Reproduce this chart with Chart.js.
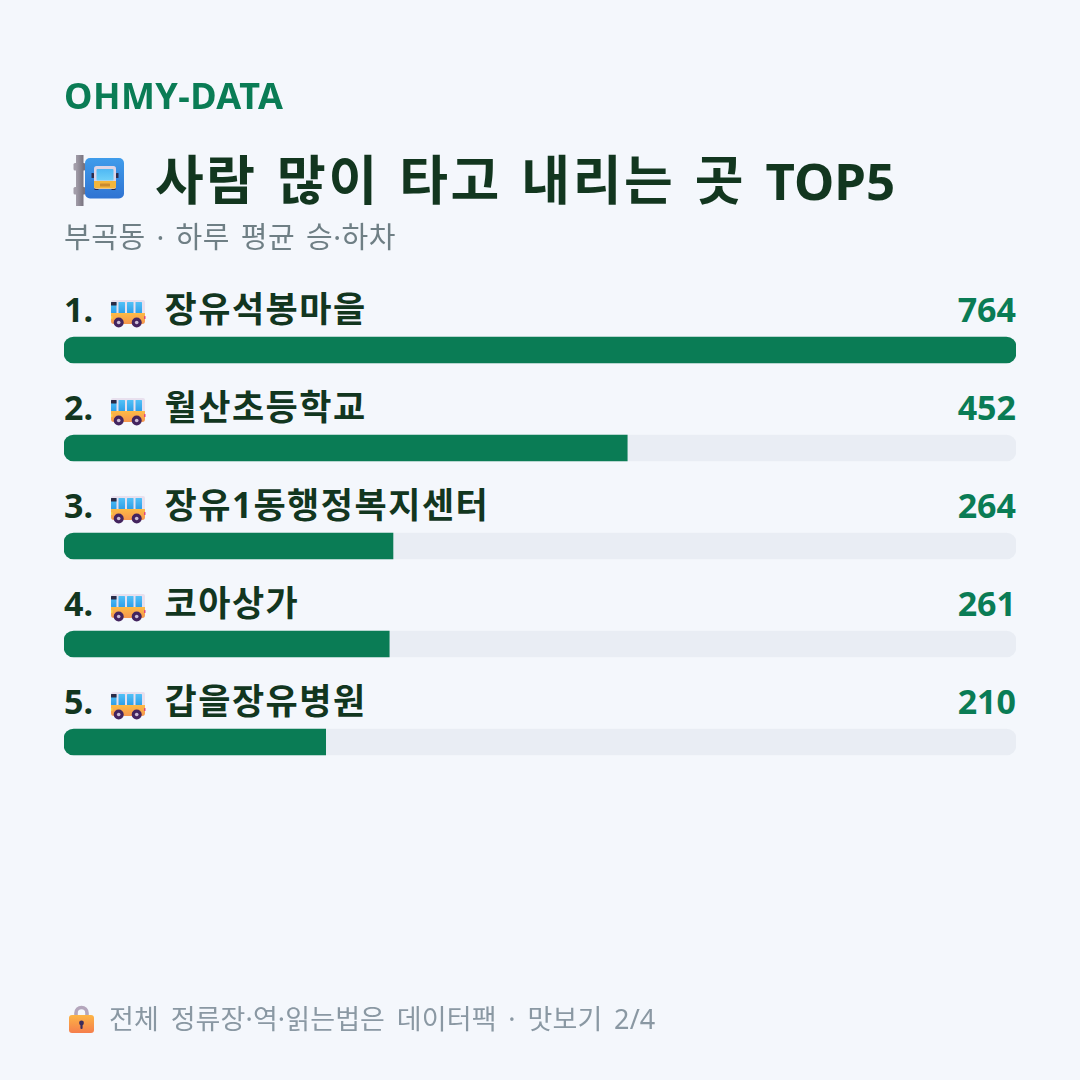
<!DOCTYPE html>
<html lang="ko">
<head>
<meta charset="utf-8">
<title>사람 많이 타고 내리는 곳 TOP5</title>
<style>
  html, body { margin: 0; padding: 0; background: #f4f7fc; }
  body { width: 1080px; height: 1080px; position: relative; overflow: hidden; font-family: "Noto Sans", "Noto Sans CJK KR", sans-serif; }
  .brand, .title, .sub, .foot { position: absolute; white-space: pre; z-index: 2; }
  .brand { left: 64px; top: 72px; font-size: 36px; font-weight: 700; line-height: 48px; letter-spacing: 0.45px; color: #0a7c55; }
  .title { left: 155px; top: 146px; font-size: 53px; font-weight: 700; line-height: 68px; letter-spacing: 2.6px; word-spacing: 3px; color: #12361f; }
  .title span { font-size: 51px; letter-spacing: 0; }
  .sub { left: 64px; top: 217px; font-size: 29px; line-height: 40px; letter-spacing: 0.6px; word-spacing: 2.5px; color: #6f7f85; }
  .foot { left: 109px; top: 1001px; font-size: 27px; line-height: 36px; letter-spacing: 0.12px; word-spacing: 4.6px; color: #8a98a3; }
  #wrap { position: absolute; left: 0; top: 0; width: 1080px; height: 1080px; }
</style>
</head>
<body>
<div class="brand">OHMY-DATA</div>
<div class="title">사람 많이 타고 내리는 곳 <span>TOP5</span></div>
<div class="sub">부곡동 · 하루 평균 승·하차</div>
<div class="foot">전체 정류장·역·읽는법은 데이터팩 · 맛보기 2/4</div>
<div id="wrap"><canvas id="stops"></canvas></div>

<script src="https://cdn.jsdelivr.net/npm/chart.js@4"></script>
<script>
const stopNames = ['장유석봉마을', '월산초등학교', '장유1동행정복지센터', '코아상가', '갑을장유병원'];
const riders = [764, 452, 264, 261, 210];

const GREEN = '#0a7c55';
const INK = '#12361f';
const PAGE_BG = '#f4f7fc';
const maxRiders = Math.max(...riders);

function vGrad(ctx, top, bottom, from, to) {
    const g = ctx.createLinearGradient(0, top, 0, bottom);
    g.addColorStop(0, from);
    g.addColorStop(1, to);
    return g;
}

function box(ctx, x, y, w, h, r, fill) {
    ctx.beginPath();
    ctx.roundRect(x, y, w, h, r);
    ctx.fillStyle = fill;
    ctx.fill();
}

function disc(ctx, x, y, r, fill) {
    ctx.beginPath();
    ctx.arc(x, y, r, 0, Math.PI * 2);
    ctx.fillStyle = fill;
    ctx.fill();
}

// side-on bus, 34 wide and 27 tall from its top left corner
function drawBus(ctx, x, y) {
    box(ctx, x, y, 34, 24, 2, '#e8e0ee');
    box(ctx, x, y + 13, 34, 11, [0, 0, 3, 3], vGrad(ctx, y + 13, y + 24, '#fdbb45', '#f6964f'));
    const glass = vGrad(ctx, y + 1, y + 13, '#55c4f8', '#2f9fe8');
    box(ctx, x + 7.5, y + 2, 6.5, 11, 0.5, glass);
    box(ctx, x + 16, y + 2, 6.5, 11, 0.5, glass);
    box(ctx, x + 24.5, y + 2, 6.5, 11, 0.5, glass);
    box(ctx, x, y + 2, 5.5, 11, 0.5, glass);
    box(ctx, x, y + 2, 5.5, 3.5, 0.5, '#2b2a45');
    box(ctx, x + 33, y + 16, 1.5, 3, 0.5, '#e0457a');
    box(ctx, x, y + 16, 1.5, 3, 0.5, '#f7d54a');
    for (const wx of [7.7, 25.7]) {
        disc(ctx, x + wx, y + 22.5, 5, '#43245f');
        disc(ctx, x + wx, y + 22.5, 1.8, '#cbbcd6');
    }
}

// pole with a blue sign carrying a front-on bus
function drawStopSign(ctx) {
    const pole = ctx.createLinearGradient(76, 0, 83.5, 0);
    pole.addColorStop(0, '#a39eaa');
    pole.addColorStop(1, '#78737f');
    box(ctx, 76, 155, 7.5, 51, 0, pole);
    box(ctx, 73.5, 163, 12, 7.5, 1.5, pole);
    box(ctx, 73.5, 187, 12, 7.5, 1.5, pole);
    box(ctx, 85, 158, 39, 40.5, 5, vGrad(ctx, 158, 198.5, '#3f9ceb', '#2f73d2'));
    box(ctx, 91.5, 173, 2.5, 5, 0.5, '#2c2a4a');
    box(ctx, 116, 173, 2.5, 5, 0.5, '#2c2a4a');
    box(ctx, 94.5, 187, 4, 3, 0.5, '#2c2a4a');
    box(ctx, 111.5, 187, 4, 3, 0.5, '#2c2a4a');
    box(ctx, 94, 166, 22, 23, 2.5, '#dcd4e6');
    box(ctx, 96.5, 169, 17, 11.5, 1, vGrad(ctx, 169, 180.5, '#4fb8f4', '#6fd0f8'));
    box(ctx, 94, 181, 22, 7.5, [0, 0, 2, 2], '#f4b63c');
    box(ctx, 100, 183.5, 10, 3, 0.5, '#c98a30');
}

function drawLock(ctx) {
    ctx.beginPath();
    ctx.moveTo(76, 1016);
    ctx.lineTo(76, 1013);
    ctx.arc(81.5, 1013, 5.5, Math.PI, 0);
    ctx.lineTo(87, 1016);
    ctx.lineWidth = 3.6;
    ctx.strokeStyle = '#b4a6bc';
    ctx.stroke();
    box(ctx, 69, 1015, 25, 18, 3, vGrad(ctx, 1015, 1033, '#fdb545', '#f57e4c'));
    disc(ctx, 81.5, 1023, 2.4, '#3c2c5c');
    box(ctx, 80.4, 1023, 2.2, 6, 1, '#3c2c5c');
}

// page colour goes in first because the canvas is opaque
const pageFill = {
    id: 'pageFill',
    beforeDraw(chart) {
        const { ctx, width, height } = chart;
        ctx.save();
        ctx.fillStyle = PAGE_BG;
        ctx.fillRect(0, 0, width, height);
        ctx.restore();
    }
};

// rank, bus, name and count sit on the line above each bar
const rowLabels = {
    id: 'rowLabels',
    afterDatasetsDraw(chart) {
        const { ctx, scales: { x, y } } = chart;
        ctx.save();
        ctx.textBaseline = 'alphabetic';
        stopNames.forEach((name, i) => {
            const mid = y.getPixelForValue(i);
            const base = mid - 28;
            ctx.font = '700 34px "Noto Sans", "Noto Sans CJK KR", sans-serif';
            ctx.letterSpacing = '0px';
            ctx.textAlign = 'left';
            ctx.fillStyle = INK;
            ctx.fillText((i + 1) + '.', x.left, base);
            ctx.textAlign = 'right';
            ctx.fillStyle = GREEN;
            ctx.fillText(String(riders[i]), x.right, base);
            drawBus(ctx, 111, mid - 50);
            ctx.font = '700 35px "Noto Sans", "Noto Sans CJK KR", sans-serif';
            ctx.letterSpacing = '1.5px';
            ctx.textAlign = 'left';
            ctx.fillStyle = INK;
            ctx.fillText(name, 164.5, base);
        });
        drawStopSign(ctx);
        drawLock(ctx);
        ctx.restore();
    }
};

const stopsCtx = document.getElementById('stops').getContext('2d', { alpha: false });

new Chart(stopsCtx, {
    type: 'bar',
    data: {
        labels: stopNames,
        datasets: [
            {
                label: '승·하차',
                data: riders,
                backgroundColor: GREEN,
                borderRadius: c => c.raw === maxRiders ? 10 : { topLeft: 10, bottomLeft: 10, topRight: 0, bottomRight: 0 },
                borderSkipped: false,
                order: 1
            },
            {
                label: 'track',
                data: riders.map(() => maxRiders),
                backgroundColor: '#e9edf4',
                borderRadius: 10,
                borderSkipped: false,
                order: 2
            }
        ]
    },
    options: {
        indexAxis: 'y',
        responsive: true,
        maintainAspectRatio: false,
        animation: false,
        layout: { padding: { left: 64, right: 64, top: 301, bottom: 289 } },
        datasets: { bar: { grouped: false, barThickness: 26 } },
        scales: {
            x: { display: false, min: 0, max: maxRiders },
            y: { display: false }
        },
        plugins: { legend: { display: false }, tooltip: { enabled: false } }
    },
    plugins: [pageFill, rowLabels]
});
</script>
</body>
</html>
